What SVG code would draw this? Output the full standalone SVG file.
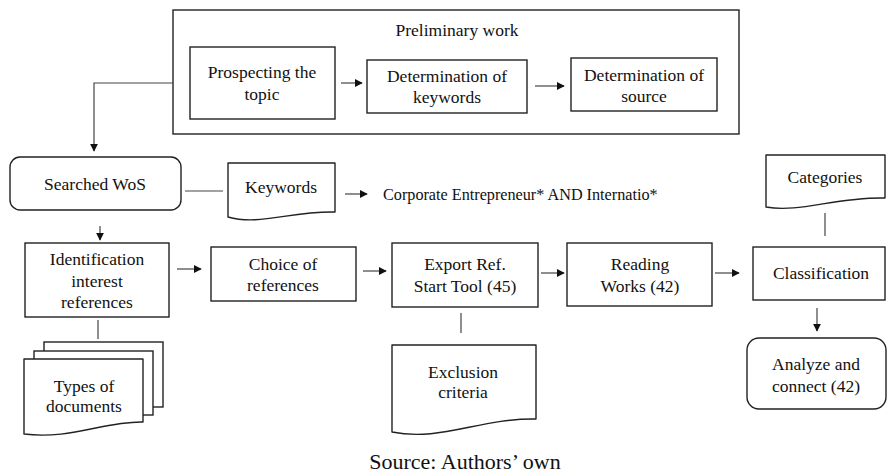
<svg xmlns="http://www.w3.org/2000/svg" width="888" height="475" viewBox="0 0 888 475" font-family="'Liberation Serif', 'DejaVu Serif', serif">
  <style>
    .box { fill: #fff; stroke: #222; stroke-width: 1.4; }
    .doc { fill: #fff; stroke: #222; stroke-width: 1.4; stroke-linejoin: round; }
    text { font-family: 'Liberation Serif', 'DejaVu Serif', serif; }
    .lbl { font-size: 17.5px; fill: #111; text-anchor: middle; }
    .small { font-size: 16.2px; text-anchor: start; }
    .src { font-size: 22px; }
    .conn { fill: none; stroke: #444; stroke-width: 1.2; }
  </style>
  <defs>
    <marker id="arrow" viewBox="0 0 10 10" refX="9" refY="5" markerWidth="8" markerHeight="8" markerUnits="userSpaceOnUse" orient="auto">
      <path d="M0,0 L10,5 L0,10 z" fill="#111"/>
    </marker>
  </defs>
  <rect width="888" height="475" fill="#fff"/>

  <!-- preliminary work container -->
  <g id="preliminary">
    <rect class="box" x="173" y="10" width="566" height="124"/>
    <text class="lbl" x="457" y="36">Preliminary work</text>
  </g>
  <g id="prospecting">
    <rect class="box" x="190" y="47" width="145" height="72"/>
    <text class="lbl" x="262" y="78">Prospecting the</text>
    <text class="lbl" x="262" y="100">topic</text>
  </g>
  <g id="det-keywords">
    <rect class="box" x="367" y="60" width="160" height="53"/>
    <text class="lbl" x="447" y="82">Determination of</text>
    <text class="lbl" x="447" y="103">keywords</text>
  </g>
  <g id="det-source">
    <rect class="box" x="571" y="58" width="146" height="53"/>
    <text class="lbl" x="644" y="81">Determination of</text>
    <text class="lbl" x="644" y="102">source</text>
  </g>

  <!-- search row -->
  <g id="searched-wos">
    <rect class="box" x="10" y="157" width="171" height="53" rx="10"/>
    <text class="lbl" x="95" y="190">Searched WoS</text>
  </g>
  <g id="keywords">
    <path class="doc" d="M228,163 H335 V212 C290,211 260,226 228,217 Z"/>
    <text class="lbl" x="281" y="193">Keywords</text>
  </g>
  <g id="query">
    <text class="lbl small" x="383" y="200">Corporate Entrepreneur* AND Internatio*</text>
  </g>
  <g id="categories">
    <path class="doc" d="M766,155 H885 V198 C835,197 800,213 766,207 Z"/>
    <text class="lbl" x="825" y="183">Categories</text>
  </g>

  <!-- process row -->
  <g id="identification">
    <rect class="box" x="25" y="243" width="144" height="74"/>
    <text class="lbl" x="97" y="265">Identification</text>
    <text class="lbl" x="97" y="287">interest</text>
    <text class="lbl" x="97" y="308">references</text>
  </g>
  <g id="choice">
    <rect class="box" x="211" y="247" width="145" height="54"/>
    <text class="lbl" x="283" y="270">Choice of</text>
    <text class="lbl" x="283" y="291">references</text>
  </g>
  <g id="export">
    <rect class="box" x="392" y="243" width="146" height="64"/>
    <text class="lbl" x="465" y="270">Export Ref.</text>
    <text class="lbl" x="465" y="292">Start Tool (45)</text>
  </g>
  <g id="reading">
    <rect class="box" x="567" y="243" width="145" height="63"/>
    <text class="lbl" x="640" y="270">Reading</text>
    <text class="lbl" x="640" y="292">Works (42)</text>
  </g>
  <g id="classification">
    <rect class="box" x="753" y="247" width="132" height="53"/>
    <text class="lbl" x="821" y="279">Classification</text>
  </g>

  <!-- bottom row -->
  <g id="types-of-documents">
    <rect class="box" x="44" y="342" width="119" height="65"/>
    <rect class="box" x="34" y="351" width="119" height="64"/>
    <path class="doc" d="M24,359 H143 V422 C105,421 70,440 24,434 Z"/>
    <text class="lbl" x="84" y="392">Types of</text>
    <text class="lbl" x="84" y="412">documents</text>
  </g>
  <g id="exclusion">
    <path class="doc" d="M392,345 H536 V419 C480,418 440,442 392,432 Z"/>
    <text class="lbl" x="463" y="378">Exclusion</text>
    <text class="lbl" x="463" y="398">criteria</text>
  </g>
  <g id="analyze">
    <rect class="box" x="747" y="338" width="139" height="71" rx="12"/>
    <text class="lbl" x="816" y="370">Analyze and</text>
    <text class="lbl" x="816" y="392">connect (42)</text>
  </g>

  <g id="caption">
    <text class="lbl src" x="465" y="469">Source: Authors’ own</text>
  </g>

  <g id="connectors">
    <path class="conn" d="M341,83 H362" marker-end="url(#arrow)"/>
    <path class="conn" d="M535,86 H564" marker-end="url(#arrow)"/>
    <path class="conn" d="M173,83 H94 V151" marker-end="url(#arrow)"/>
    <path class="conn" d="M185,191 H223"/>
    <path class="conn" d="M345,194 H367" marker-end="url(#arrow)"/>
    <path class="conn" d="M100,226 V240" marker-end="url(#arrow)"/>
    <path class="conn" d="M177,269 H201" marker-end="url(#arrow)"/>
    <path class="conn" d="M363,271 H386" marker-end="url(#arrow)"/>
    <path class="conn" d="M541,273 H564" marker-end="url(#arrow)"/>
    <path class="conn" d="M715,273 H739" marker-end="url(#arrow)"/>
    <path class="conn" d="M825,213 V236"/>
    <path class="conn" d="M817,308 V331" marker-end="url(#arrow)"/>
    <path class="conn" d="M461,313 V333"/>
    <path class="conn" d="M98,320 V339"/>
  </g>
</svg>
